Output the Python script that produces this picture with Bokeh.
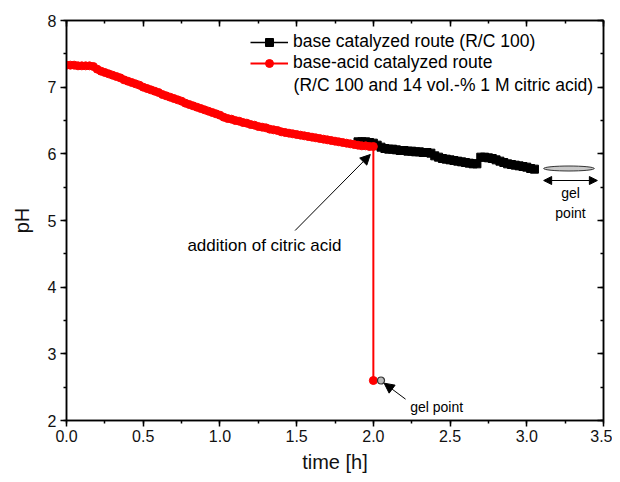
from bokeh.plotting import figure
from bokeh.models import (Range1d, SingleIntervalTicker, LinearAxis, PrintfTickFormatter,
                          Legend, LegendItem, Label, Arrow, NormalHead, CustomJSTickFormatter)
from bokeh.embed import file_html
from bokeh.resources import INLINE

# ---- data ----
red_t = [0.0, 0.025, 0.05, 0.075, 0.1, 0.125, 0.15, 0.175, 0.2, 0.225, 0.25, 0.275, 0.3, 0.325,
         0.35, 0.375, 0.4, 0.425, 0.45, 0.475, 0.5, 0.525, 0.55, 0.575, 0.6, 0.625, 0.65, 0.675,
         0.7, 0.725, 0.75, 0.775, 0.8, 0.825, 0.85, 0.875, 0.9, 0.925, 0.95, 0.975, 1.0, 1.025,
         1.05, 1.075, 1.1, 1.125, 1.15, 1.175, 1.2, 1.225, 1.25, 1.275, 1.3, 1.325, 1.35, 1.375,
         1.4, 1.425, 1.45, 1.475, 1.5, 1.525, 1.55, 1.575, 1.6, 1.625, 1.65, 1.675, 1.7, 1.725,
         1.75, 1.775, 1.8, 1.825, 1.85, 1.875, 1.9, 1.925, 1.95, 1.975, 2.0, 2.0]
red_ph = [7.33, 7.33, 7.33, 7.32, 7.32, 7.32, 7.32, 7.31, 7.27, 7.24, 7.22, 7.20, 7.18, 7.16,
          7.14, 7.11, 7.09, 7.07, 7.05, 7.03, 7.00, 6.98, 6.96, 6.94, 6.92, 6.89, 6.87, 6.85,
          6.83, 6.81, 6.79, 6.76, 6.74, 6.72, 6.70, 6.68, 6.66, 6.64, 6.62, 6.60, 6.58, 6.55,
          6.53, 6.52, 6.50, 6.49, 6.47, 6.46, 6.44, 6.43, 6.41, 6.40, 6.39, 6.37, 6.36, 6.35,
          6.33, 6.32, 6.31, 6.30, 6.29, 6.28, 6.27, 6.26, 6.25, 6.24, 6.23, 6.22, 6.21, 6.20,
          6.19, 6.18, 6.17, 6.16, 6.15, 6.14, 6.13, 6.12, 6.12, 6.11, 6.11, 2.60]

black_t = [1.9, 1.925, 1.95, 1.975, 2.0, 2.025, 2.05, 2.075, 2.1, 2.125, 2.15, 2.175, 2.2, 2.225,
           2.25, 2.275, 2.3, 2.325, 2.35, 2.375, 2.4, 2.425, 2.45, 2.475, 2.5, 2.525, 2.55, 2.575,
           2.6, 2.625, 2.65, 2.675, 2.7, 2.725, 2.75, 2.775, 2.8, 2.825, 2.85, 2.875, 2.9, 2.925,
           2.95, 2.975, 3.0, 3.025, 3.05]
black_ph = [6.18, 6.18, 6.18, 6.17, 6.16, 6.13, 6.10, 6.08, 6.07, 6.07, 6.06, 6.05, 6.05, 6.04,
            6.04, 6.03, 6.03, 6.02, 6.02, 6.01, 5.97, 5.95, 5.93, 5.92, 5.91, 5.90, 5.89, 5.88,
            5.87, 5.86, 5.85, 5.85, 5.95, 5.95, 5.94, 5.93, 5.91, 5.89, 5.87, 5.85, 5.84, 5.83,
            5.82, 5.81, 5.80, 5.78, 5.77]

gel_low_t = [2.05]
gel_low_ph = [2.60]
gel_high_t = [3.275]
gel_high_ph = [5.78]

x_ticks_interval = 0.5
y_ticks_interval = 1

FONT = "Liberation Sans"

p = figure(width=612, height=480, output_backend="svg", toolbar_location=None,
           x_range=Range1d(0, 3.5), y_range=Range1d(2, 8),
           min_border_left=66, min_border_right=9, min_border_top=20, min_border_bottom=60,
           x_axis_label="time [h]", y_axis_label="pH")
p.grid.visible = False
p.outline_line_color = "black"
p.outline_line_width = 1.5
p.background_fill_color = "white"

p.xaxis.ticker = SingleIntervalTicker(interval=x_ticks_interval, num_minor_ticks=2)
p.yaxis.ticker = SingleIntervalTicker(interval=y_ticks_interval, num_minor_ticks=2)
p.xaxis.formatter = PrintfTickFormatter(format="%.1f")
p.yaxis.formatter = PrintfTickFormatter(format="%d")

for ax in (p.xaxis[0], p.yaxis[0]):
    ax.axis_line_width = 1.5
    ax.major_tick_line_width = 1.5
    ax.minor_tick_line_width = 1.5
    ax.major_tick_out = 6
    ax.major_tick_in = 0
    ax.minor_tick_out = 3
    ax.minor_tick_in = 0
    ax.major_label_text_font = FONT
    ax.major_label_text_font_size = "16px"
    ax.major_label_text_color = "#111111"
    ax.axis_label_text_font = FONT
    ax.axis_label_text_font_size = "20px"
    ax.axis_label_text_font_style = "normal"
    ax.axis_label_text_color = "#111111"
p.xaxis.major_label_standoff = 3
p.xaxis.axis_label_standoff = 6
p.yaxis.major_label_standoff = 4
p.yaxis.axis_label_standoff = 12

top_ax = LinearAxis(ticker=SingleIntervalTicker(interval=x_ticks_interval, num_minor_ticks=2))
right_ax = LinearAxis(ticker=SingleIntervalTicker(interval=y_ticks_interval, num_minor_ticks=2))
for ax in (top_ax, right_ax):
    ax.axis_line_width = 1.5
    ax.major_tick_line_width = 1.5
    ax.minor_tick_line_width = 1.5
    ax.major_tick_out = 0
    ax.major_tick_in = 6
    ax.minor_tick_out = 0
    ax.minor_tick_in = 3
    ax.formatter = CustomJSTickFormatter(code="return ''")
    ax.major_label_text_font_size = "1px"
    ax.major_label_standoff = 0
p.add_layout(top_ax, "above")
p.add_layout(right_ax, "right")

# black series
bl = p.line(black_t, black_ph, line_color="black", line_width=1.5)
bm = p.scatter(black_t, black_ph, marker="square", size=8, fill_color="black", line_color="black")
# red series
rl = p.line(red_t, red_ph, line_color="red", line_width=2)
rm = p.scatter(red_t, red_ph, marker="circle", size=8, fill_color="red", line_color="red")

# gel point markers
p.scatter(gel_low_t, gel_low_ph, marker="circle", size=7, fill_color="#bbbbbb",
          line_color="#333333", line_width=1.2)
p.ellipse(x=gel_high_t, y=gel_high_ph, width=0.33, height=0.075, fill_color="#c8c8c8",
          line_color="#333333", line_width=1)

# arrows
p.add_layout(Arrow(end=NormalHead(size=8, fill_color="black", line_color="black"),
                   start=NormalHead(size=8, fill_color="black", line_color="black"),
                   x_start=3.11, y_start=5.6, x_end=3.46, y_end=5.6, line_width=1.2))
p.add_layout(Arrow(end=NormalHead(size=10, fill_color="black", line_color="black"),
                   x_start=1.49, y_start=4.85, x_end=1.98, y_end=5.99, line_width=1))
p.add_layout(Arrow(end=NormalHead(size=10, fill_color="black", line_color="black"),
                   x_start=2.21, y_start=2.32, x_end=2.07, y_end=2.56, line_width=1))

# annotation texts
p.add_layout(Label(x=1.29, y=4.62, text="addition of citric acid", text_font=FONT,
                   text_font_size="17px", text_align="center", text_baseline="middle",
                   text_color="black"))
p.add_layout(Label(x=2.24, y=2.2, text="gel point", text_font=FONT, text_font_size="14px",
                   text_align="left", text_baseline="middle", text_color="black"))
p.add_layout(Label(x=3.285, y=5.41, text="gel", text_font=FONT, text_font_size="14px",
                   text_align="center", text_baseline="middle", text_color="black"))
p.add_layout(Label(x=3.285, y=5.11, text="point", text_font=FONT, text_font_size="14px",
                   text_align="center", text_baseline="middle", text_color="black"))

legend = Legend(items=[LegendItem(label="base catalyzed route (R/C 100)", renderers=[bl, bm]),
                       LegendItem(label="base-acid catalyzed route", renderers=[rl, rm])],
                location=(184, 347), glyph_width=38, glyph_height=20, label_standoff=5,
                padding=0, margin=0, spacing=0, border_line_alpha=0, background_fill_alpha=0,
                label_text_font=FONT, label_text_font_size="17.5px", label_height=20,
                label_text_color="black")
p.add_layout(legend, "center")
p.add_layout(Label(x=1.48, y=7.04, text="(R/C 100 and 14 vol.-% 1 M citric acid)", text_font=FONT,
                   text_font_size="17.5px", text_align="left", text_baseline="middle",
                   text_color="black"))

open("out.html", "w").write(file_html(p, INLINE))
